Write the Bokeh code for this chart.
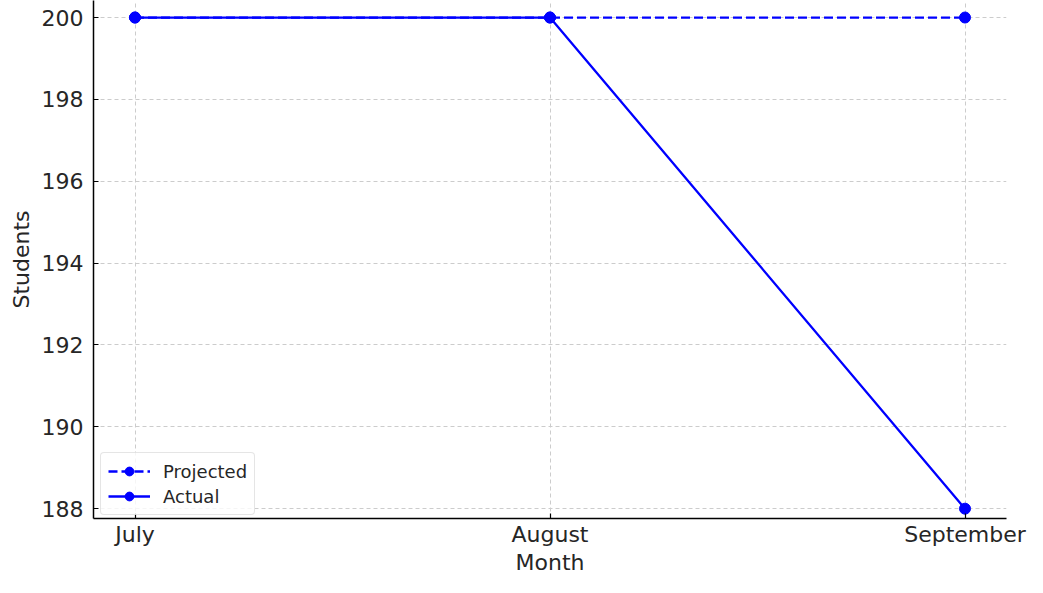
from bokeh.plotting import figure
from bokeh.models import Range1d, FixedTicker, Legend, LegendItem
from bokeh.embed import file_html
from bokeh.resources import INLINE

months = ["July", "August", "September"]
projected = [200, 200, 200]
actual = [200, 200, 188]
y_ticks = [188, 190, 192, 194, 196, 198, 200]

xs = list(range(len(months)))

p = figure(width=1027, height=577, output_backend="svg", toolbar_location=None,
           x_range=Range1d(-0.1, 2.1), y_range=Range1d(187.76, 200.416),
           min_border_left=93, min_border_right=21, min_border_top=0, min_border_bottom=59)
p.outline_line_color = None
p.background_fill_color = "white"

blue = "#0000ff"
r1 = p.line(xs, projected, line_color=blue, line_width=2.3, line_dash="9 4")
r1m = p.scatter(xs, projected, size=11, fill_color=blue, line_color=blue)
r2 = p.line(xs, actual, line_color=blue, line_width=2.3)
r2m = p.scatter(xs, actual, size=11, fill_color=blue, line_color=blue)

font = "DejaVu Sans"
txt = "#262626"
for ax in (p.xaxis[0], p.yaxis[0]):
    ax.major_label_text_font = font
    ax.major_label_text_font_size = "22px"
    ax.major_label_text_color = txt
    ax.axis_label_text_font = font
    ax.axis_label_text_font_size = "22px"
    ax.axis_label_text_font_style = "normal"
    ax.axis_label_text_color = txt
    ax.axis_line_color = "black"
    ax.axis_line_width = 1.5
    ax.major_tick_in = 5
    ax.major_tick_out = 0
    ax.major_tick_line_color = "black"
    ax.major_tick_line_width = 1.2
    ax.minor_tick_line_color = None

p.xaxis.ticker = FixedTicker(ticks=xs)
p.xaxis.major_label_overrides = {i: m for i, m in enumerate(months)}
p.yaxis.ticker = FixedTicker(ticks=y_ticks)
p.xaxis.axis_label = "Month"
p.yaxis.axis_label = "Students"
p.xaxis.major_label_standoff = 3
p.xaxis.axis_label_standoff = 0
p.yaxis.major_label_standoff = 10
p.yaxis.axis_label_standoff = 5

p.grid.grid_line_color = "#cccccc"
p.grid.grid_line_dash = "4 3"
p.grid.grid_line_width = 1

legend = Legend(items=[LegendItem(label="Projected", renderers=[r1, r1m]),
                       LegendItem(label="Actual", renderers=[r2, r2m])],
                location=(7, 3))
legend.label_text_font = font
legend.label_text_font_size = "18px"
legend.label_text_color = txt
legend.border_line_color = "#cccccc"
legend.border_line_width = 1
legend.border_radius = 4
legend.glyph_width = 42
legend.glyph_height = 22
legend.label_height = 22
legend.spacing = 3
legend.padding = 7
legend.margin = 0
legend.label_standoff = 13
legend.background_fill_alpha = 0.8
p.add_layout(legend)

open("out.html", "w").write(file_html(p, INLINE))
